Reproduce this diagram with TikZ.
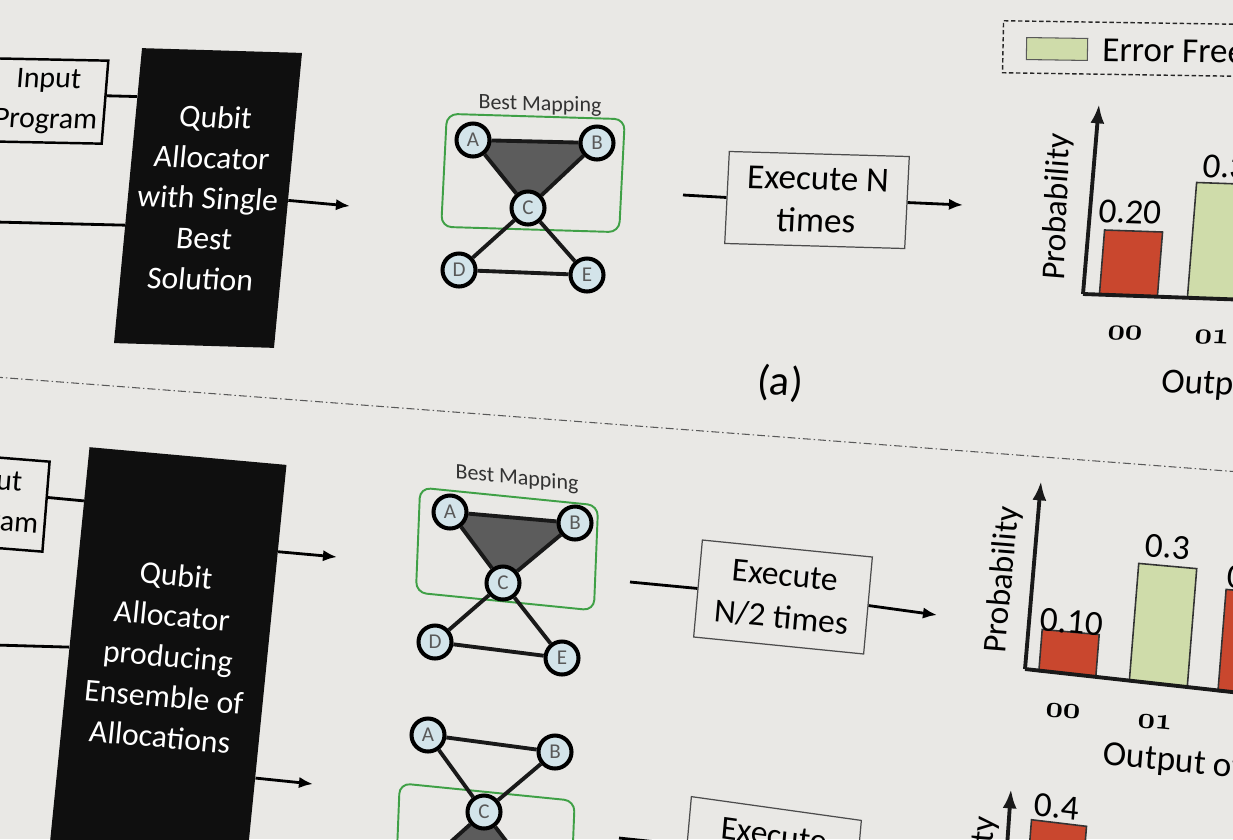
\documentclass[tikz,border=0pt]{standalone}
\usepackage{fontspec}
\setmainfont{Carlito}
\usetikzlibrary{arrows.meta,calc}
\definecolor{bgc}{HTML}{E9E8E5}
\definecolor{qfill}{HTML}{D3E4EA}
\definecolor{tri}{HTML}{5C5C5C}
\definecolor{gbord}{HTML}{3FA046}
\definecolor{redbar}{HTML}{C9472E}
\definecolor{grnbar}{HTML}{CFDCAA}
\pgfdeclarelayer{bottom}
\pgfdeclarelayer{under}
\pgfsetlayers{bottom,under,main}
\tikzset{
  pz/.style 2 args={cm={1,-#1,#2,1,(0,0)}},
  blk/.style={fill=black!94, text=white, font=\fontsize{18}{23}\selectfont, align=center, inner sep=0pt},
  inbox/.style={draw=black, line width=1.4pt, font=\fontsize{17}{23}\selectfont, align=center, inner sep=0pt},
  exbox/.style={draw=black!70, line width=0.7pt, font=\fontsize{20}{24}\selectfont, align=center, inner sep=0pt},
  qb/.style={circle, draw=black, line width=2.3pt, fill=qfill, minimum size=0.66cm, inner sep=0pt, text=black!65, font=\fontsize{12}{12}\selectfont},
  gbox/.style={draw=gbord, line width=1.1pt, rounded corners=6pt, inner sep=0pt},
  edge/.style={line width=2.2pt, black!90},
  conn/.style={line width=1.6pt},
  arr/.style={conn, -{Latex[length=8pt,width=6.5pt]}},
  axis/.style={line width=2.2pt, black!90},
  yax/.style={axis, -{Latex[length=11pt,width=8pt]}},
  bar/.style={draw=black!80, line width=0.9pt, inner sep=0pt},
  lbl/.style={inner sep=0pt, font=\fontsize{20}{20}\selectfont},
  prob/.style={inner sep=0pt, rotate=90, font=\fontsize{19}{19}\selectfont},
  small/.style={inner sep=0pt, text=black!80, font=\fontsize{12.5}{12.5}\selectfont},
  num/.style={inner sep=0pt, font=\fontsize{16}{16}\usefont{OML}{cmm}{b}{it}},
  dashdot/.style={black!65, line width=0.6pt, dash pattern=on 4.5pt off 1.7pt on 0.8pt off 1.7pt},
}
\begin{document}
\begin{tikzpicture}[x=0.02cm,y=-0.02cm]
\begin{pgfonlayer}{bottom}
\fill[bgc] (0,0) rectangle (1233,839);
\end{pgfonlayer}
\useasboundingbox (0,0) rectangle (1233,839);
\clip (0,0) rectangle (1233,839);

% ---------------- top row ----------------
\node[inbox, pz={0.02}{0.08}, minimum width=2.32cm, minimum height=1.66cm] (in1) at (47,101) {Input\\Program};
\node[blk, pz={0.03}{0.095}, minimum width=3.2cm, minimum height=5.9cm] (qa1) at (208,198) {Qubit\\Allocator\\with Single\\Best\\Solution};
\coordinate (l1) at (-5,222);
\coordinate (o1) at (350,206);
\draw[conn] ($(in1.east)!0.15!(in1.north east)$) -- ($(qa1.west)!0.67!(qa1.north west)$);
\draw[conn] (l1) -- ($(qa1.west)!0.2!(qa1.south west)$);
\draw[arr] (qa1.east) -- (o1);

% graph 1
\node[qb] (A1) at (473,140) {A};
\node[qb] (B1) at (597,143) {B};
\node[qb] (C1) at (528,208) {C};
\node[qb] (D1) at (459,270) {D};
\node[qb] (E1) at (587,275) {E};
\node[small, pz={0.03}{0}] (bm1) at (540,105) {Best Mapping};
\begin{pgfonlayer}{under}
\clip (0,0) rectangle (1233,839);
\node[gbox, pz={0.03}{0.05}, minimum width=3.56cm, minimum height=2.26cm] (g1) at (533,173) {};
\fill[tri] (A1.center) -- (B1.center) -- (C1.center) -- cycle;
\draw[edge] (A1) -- (B1);
\draw[edge] (B1) -- (C1);
\draw[edge] (C1) -- (A1);
\draw[edge] (C1) -- (D1);
\draw[edge] (D1) -- (E1);
\draw[edge] (E1) -- (C1);
\end{pgfonlayer}

% execute N
\coordinate (c1) at (683,195);
\node[exbox, pz={0.028}{0.05}, minimum width=3.6cm, minimum height=1.84cm] (ex1) at (817,200) {Execute N\\times};
\coordinate (d1) at (963,205);
\draw[conn] (c1) -- (ex1.west);
\draw[arr] (ex1.east) -- (d1);

% legend
\node[draw=black!85, line width=0.8pt, dash pattern=on 2.5pt off 1.5pt, pz={0.015}{0.02}, minimum width=6cm, minimum height=1.04cm, inner sep=0pt] (leg) at (1153,49) {};
\node[bar, draw=black!65, line width=0.6pt, fill=grnbar, pz={0.015}{0.02}, minimum width=1.22cm, minimum height=0.44cm] (sw) at (1057,49) {};
\node[lbl, anchor=west, pz={0.015}{0.02}] (ef) at (1102,50) {Error Free};

% chart 1
\node[bar, fill=redbar, pz={0.035}{0.08}, minimum width=1.16cm, minimum height=1.28cm] (r1a) at (1131,263) {};
\node[bar, fill=grnbar, pz={0.035}{0.08}, minimum width=1.16cm, minimum height=2.3cm] (g1a) at (1221,241) {};
\coordinate (o1c) at (1083,294);
\coordinate (t1c) at (1099,104);
\coordinate (r1c) at (1250,300);
\draw[axis] (o1c) -- (r1c);
\draw[yax] (o1c) -- (t1c);
\node[lbl, pz={0.035}{0.08}] (v1a) at (1130,212) {0.20};
\node[lbl, pz={0.035}{0.08}] (v1b) at (1234,167) {0.30};
\node[prob, pz={0.035}{0.08}] (p1) at (1058,207) {Probability};
\node[num, pz={0.035}{0.08}] (x1a) at (1125,333) {00};
\node[num, pz={0.035}{0.08}] (x1b) at (1212,337) {01};
\node[lbl, anchor=west, pz={0.04}{0.08}] (out1) at (1161,383) {Output of};

% caption and separator
\node[lbl, pz={0.06}{0.08}, font=\fontsize{24}{24}\selectfont] (cap) at (780,383) {(a)};
\coordinate (s1) at (-5,377);
\coordinate (s2) at (1240,472);
\draw[dashdot] (s1) -- (s2);

% ---------------- bottom row ----------------
\node[inbox, pz={0.08}{0.08}, minimum width=2.32cm, minimum height=1.8cm] (in2) at (-12,502) {Input\\Program};
\node[blk, pz={0.09}{0.1}, minimum width=3.94cm, minimum height=8cm] (qa2) at (168,656) {Qubit\\Allocator\\producing\\Ensemble of\\Allocations};
\coordinate (l2) at (-5,645);
\coordinate (o2) at (337,557);
\coordinate (o3) at (313,784);
\draw[conn] ($(in2.east)!0.2!(in2.north east)$) -- ($(qa2.west)!0.73!(qa2.north west)$);
\draw[conn] (l2) -- (qa2.west);
\draw[arr] ($(qa2.east)!0.565!(qa2.north east)$) -- (o2);
\draw[arr] ($(qa2.east)!0.565!(qa2.south east)$) -- (o3);

% graph 2
\node[qb] (A2) at (450,512) {A};
\node[qb] (B2) at (575,523) {B};
\node[qb] (C2) at (503,583) {C};
\node[qb] (D2) at (435,642) {D};
\node[qb] (E2) at (562,658) {E};
\node[small, pz={0.1}{0}] (bm2) at (517,479) {Best Mapping};
% graph 3
\node[qb] (A3) at (428,735) {A};
\node[qb] (B3) at (555,752) {B};
\node[qb] (C3) at (484,812) {C};
\node[qb] (D3) at (416,873) {D};
\node[qb] (E3) at (545,892) {E};
\begin{pgfonlayer}{under}
\clip (0,0) rectangle (1233,839);
\node[gbox, pz={0.1}{0.04}, minimum width=3.56cm, minimum height=2.1cm] (g2) at (507,549) {};
\fill[tri] (A2.center) -- (B2.center) -- (C2.center) -- cycle;
\draw[edge] (A2) -- (B2);
\draw[edge] (B2) -- (C2);
\draw[edge] (C2) -- (A2);
\draw[edge] (C2) -- (D2);
\draw[edge] (D2) -- (E2);
\draw[edge] (E2) -- (C2);
\node[gbox, pz={0.1}{0.04}, minimum width=3.5cm, minimum height=2.2cm] (g3) at (485,847) {};
\fill[tri] (C3.center) -- (D3.center) -- (E3.center) -- cycle;
\draw[edge] (A3) -- (B3);
\draw[edge] (B3) -- (C3);
\draw[edge] (C3) -- (A3);
\draw[edge] (C3) -- (D3);
\draw[edge] (D3) -- (E3);
\draw[edge] (E3) -- (C3);
\end{pgfonlayer}

% execute N/2
\coordinate (c2) at (630,582);
\node[exbox, pz={0.1}{0.09}, minimum width=3.4cm, minimum height=1.94cm, font=\fontsize{19}{24}\selectfont] (ex2) at (783,597) {Execute\\N/2 times};
\coordinate (d2) at (937,615);
\draw[conn] (c2) -- (ex2.west);
\draw[arr] (ex2.east) -- (d2);
\coordinate (c3) at (619,838);
\node[exbox, pz={0.14}{0.09}, minimum width=3.4cm, minimum height=1.94cm, font=\fontsize{19}{24}\selectfont] (ex3) at (772,857) {Execute\\N/2 times};
\draw[conn] (c3) -- (ex3.west);

% chart 2
\node[bar, fill=redbar, pz={0.09}{0.08}, minimum width=1.14cm, minimum height=0.84cm] (r2a) at (1069,653) {};
\node[bar, fill=grnbar, pz={0.09}{0.08}, minimum width=1.16cm, minimum height=2.36cm] (g2a) at (1163,625) {};
\node[bar, fill=redbar, pz={0.09}{0.08}, minimum width=1.16cm, minimum height=2.04cm] (r2c) at (1251,643) {};
\coordinate (o2c) at (1025,669);
\coordinate (t2c) at (1041,481);
\coordinate (r2cc) at (1250,694);
\draw[axis] (o2c) -- (r2cc);
\draw[yax] (o2c) -- (t2c);
\node[lbl, pz={0.09}{0.08}] (v2a) at (1072,622) {0.10};
\node[lbl, pz={0.09}{0.08}] (v2b) at (1168,547) {0.3};
\node[lbl, pz={0.09}{0.08}] (v2c) at (1250,578) {0.2};
\node[prob, pz={0.09}{0.08}] (p2) at (1003,580) {Probability};
\node[num, pz={0.09}{0.08}] (x2a) at (1063,711) {00};
\node[num, pz={0.09}{0.08}] (x2b) at (1155,722) {01};
\node[lbl, anchor=west, pz={0.1}{0.08}] (out2) at (1103,755) {Output of};

% chart 3
\node[bar, fill=redbar, pz={0.12}{0.08}, minimum width=1.1cm, minimum height=2cm] (r3a) at (1055,873) {};
\coordinate (o3c) at (1003,905);
\coordinate (t3c) at (1011,789);
\draw[yax] (o3c) -- (t3c);
\node[lbl, pz={0.12}{0.08}] (v3a) at (1057,807) {0.4};
\node[prob, pz={0.12}{0.08}] (p3) at (978,890) {Probability};
\end{tikzpicture}
\end{document}
